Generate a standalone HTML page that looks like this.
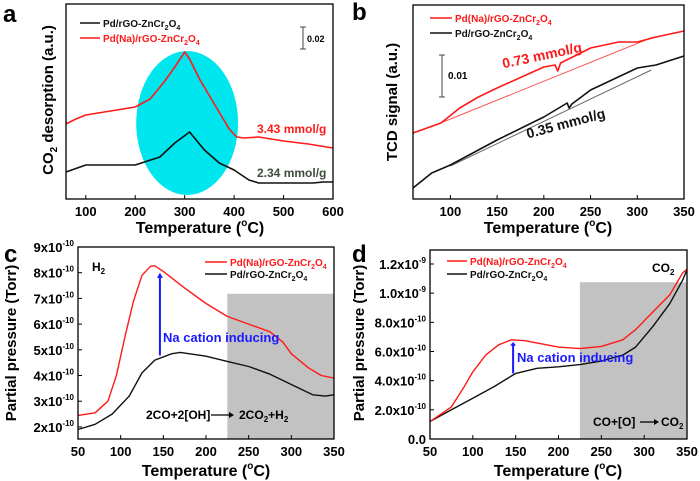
<!DOCTYPE html>
<html><head><meta charset="utf-8">
<style>
body{margin:0;background:#fff;}
svg{display:block;font-family:"Liberation Sans",Arial,sans-serif;font-weight:bold;}
</style></head>
<body>
<svg id="fig" width="700" height="481" viewBox="0 0 700 481" xmlns="http://www.w3.org/2000/svg"></svg>
<script>
// ---- Panel a data (CO2-TPD) ----
const aRedT = [60,80,100,150,200,230,260,280,300,310,330,360,390,405,420,450,500,550,600];
const aRedV = [75,80,84,88,92,100,118,132,147,140,120,95,70,62,61,62,58,55,51];
const aBlkT = [60,100,150,200,250,280,310,340,370,400,430,450,500,560,580,600];
const aBlkV = [27,34,34,34,42,56,67,49,36,29,19,16,16,16,17,17];
const aXTicks = [100,200,300,400,500,600];
// ---- Panel b data (H2-TPR TCD) ----
const bRedT = [60,90,110,130,150,200,212,215,218,250,280,300,320,350];
const bRedV = [66,76,91,102,111,132,134,128,136,151,157,157,162,168];
const bBlkT = [60,80,100,150,200,225,227,230,250,300,320,350];
const bBlkV = [11,26,34,59,82,96,91,95,109,131,134,143];
const bRedBaseT = [87,317];
const bRedBaseV = [75,162];
const bBlkBaseT = [100,315];
const bBlkBaseV = [33,129];
const bXTicks = [100,150,200,250,300,350];
// ---- Panel c data (H2 partial pressure, x1e-10 Torr) ----
const cRedT = [50,70,85,95,105,115,125,135,140,150,175,200,225,250,275,290,300,320,335,350];
const cRedV = [2.45,2.55,3.0,4.0,5.5,6.9,7.9,8.25,8.27,8.05,7.4,6.8,6.3,6.0,5.7,5.3,4.85,4.3,4.0,3.9];
const cBlkT = [50,70,90,110,125,140,160,170,200,225,250,275,300,325,340,350];
const cBlkV = [1.9,2.1,2.5,3.2,4.1,4.6,4.85,4.9,4.75,4.55,4.35,4.05,3.65,3.25,3.2,3.25];
const cXTicks = [50,100,150,200,250,300,350];
const cYTicks = [2,3,4,5,6,7,8,9];
// ---- Panel d data (CO2 partial pressure, x1e-10 Torr) ----
const dRedT = [50,75,90,100,115,130,145,160,200,225,250,275,290,310,330,345,350];
const dRedV = [1.19,2.2,3.6,4.6,5.75,6.45,6.8,6.75,6.3,6.2,6.35,6.8,7.5,8.7,9.9,11.4,11.65];
const dBlkT = [50,75,100,125,150,175,200,225,250,275,290,310,330,345,350];
const dBlkV = [1.2,2.0,2.8,3.6,4.5,4.85,4.95,5.1,5.35,5.75,6.3,7.7,9.3,10.9,11.6];
const dXTicks = [50,100,150,200,250,300,350];
const dYTicks = [0,2,4,6,8,10,12];
const dYLabels = ['0.0','2.0x10','4.0x10','6.0x10','8.0x10','1.0x10','1.2x10'];
const dYExp = ['','-10','-10','-10','-10','-9','-9'];

const NS='http://www.w3.org/2000/svg';
const svg=document.getElementById('fig');
function el(tag,attrs,parent,text){
  const e=document.createElementNS(NS,tag);
  for(const k in attrs)e.setAttribute(k,attrs[k]);
  if(text!==undefined)e.textContent=text;
  (parent||svg).appendChild(e);return e;
}
function mk(x0,x1,d0,d1){return v=>x0+(v-d0)*(x1-x0)/(d1-d0);}
function path(ts,vs,X,Y){return ts.map((t,i)=>(i?'L':'M')+X(t).toFixed(1)+' '+Y(vs[i]).toFixed(1)).join(' ');}
function series(g,ts,vs,X,Y,color,w,name){
  const p=el('path',{d:path(ts,vs,X,Y),fill:'none',stroke:color,'stroke-width':w,'stroke-linejoin':'round'},g);
  
  
  return p;
}
function frame(g,L,T,R,B){
  const r=el('rect',{x:L,y:T,width:R-L,height:B-T,fill:'none',stroke:'#000','stroke-width':1.3},g);
  
  
}
function xTicks(g,ticks,X,B,ly){
  ticks.forEach(t=>{
    el('line',{x1:X(t),x2:X(t),y1:B,y2:B-4,stroke:'#000','stroke-width':1},g);
    const tx=el('text',{x:X(t),y:ly,'text-anchor':'middle','font-size':13},g,String(t));
    
    
  });
}
function legendEntry(g,x1,x2,y,color,label){
  el('line',{x1:x1,x2:x2,y1:y,y2:y,stroke:color,'stroke-width':1.6},g);
  const t=el('text',{x:x2+3,y:y+4,'font-size':10,fill:color},g);
  
  
  t.innerHTML=label;
}
const LBL='Pd/rGO-ZnCr<tspan font-size="7" dy="3">2</tspan><tspan dy="-3">O</tspan><tspan font-size="7" dy="3">4</tspan>';
const LBLR='Pd(Na)/rGO-ZnCr<tspan font-size="7" dy="3">2</tspan><tspan dy="-3">O</tspan><tspan font-size="7" dy="3">4</tspan>';
function xTitle(g,cx,y){
  const t=el('text',{x:cx,y:y,'text-anchor':'middle','font-size':16},g);
  
  
  t.innerHTML='Temperature (<tspan font-size="10" dy="-7">o</tspan><tspan dy="7">C)</tspan>';
}
function yTitle(g,x,cy,html){
  const t=el('text',{x:0,y:0,'text-anchor':'middle','font-size':15,transform:`translate(${x},${cy}) rotate(-90)`},g);
  
  
  t.innerHTML=html;
}
function panelLetter(g,x,y,s){
  const t=el('text',{x:x,y:y,'font-size':24},g,s);
  
  
}

// ===== Panel a =====
(function(){
  const g=el('g',{});
  const L=66,R=333,T=4,B=199;
  const X=mk(L,R,60,600),Y=mk(B,T,0,195);
  const e=el('ellipse',{cx:X(305),cy:Y(76),rx:X(305+103)-X(305),ry:72,fill:'#00e6ee'},g);
  
  series(g,aBlkT,aBlkV,X,Y,'#111',1.6,'series-pd-rgo');
  series(g,aRedT,aRedV,X,Y,'#ff1a1a',1.6,'series-pd-na-rgo');
  frame(g,L,T,R,B);
  xTicks(g,aXTicks,X,B,216);
  xTitle(g,200,233);
  yTitle(g,53,100,'CO<tspan font-size="10" dy="4">2</tspan><tspan dy="-4"> desorption (a.u.)</tspan>');
  panelLetter(g,3,22,'a');
  legendEntry(g,80,100,23,'#111',LBL);
  legendEntry(g,80,100,38,'#ff1a1a',LBLR);
  el('line',{x1:303,x2:303,y1:27,y2:49,stroke:'#444','stroke-width':1},g);
  el('line',{x1:300,x2:306,y1:27,y2:27,stroke:'#444'},g);
  el('line',{x1:300,x2:306,y1:49,y2:49,stroke:'#444'},g);
  el('text',{x:307,y:42,'font-size':9},g,'0.02');
  let t=el('text',{x:257,y:133,'font-size':12,fill:'#ff1a1a'},g,'3.43 mmol/g');
  
  t=el('text',{x:257,y:177,'font-size':12,fill:'#3d4d3a'},g,'2.34 mmol/g');
  
})();

// ===== Panel b =====
(function(){
  const g=el('g',{});
  const L=413,R=684,T=5,B=199;
  const X=mk(L,R,60,350),Y=mk(B,T,0,194);
  series(g,bRedBaseT,bRedBaseV,X,Y,'#ff5555',1,'baseline-red');
  series(g,bBlkBaseT,bBlkBaseV,X,Y,'#666',1,'baseline-black');
  series(g,bBlkT,bBlkV,X,Y,'#111',1.6,'series-pd-rgo');
  series(g,bRedT,bRedV,X,Y,'#ff1a1a',1.6,'series-pd-na-rgo');
  frame(g,L,T,R,B);
  xTicks(g,bXTicks,X,B,216);
  xTitle(g,548,233);
  yTitle(g,397,102,'TCD signal (a.u.)');
  panelLetter(g,352,20,'b');
  legendEntry(g,430,452,18,'#ff1a1a',LBLR);
  legendEntry(g,430,452,33,'#111',LBL);
  el('line',{x1:442,x2:442,y1:55,y2:97,stroke:'#444'},g);
  el('line',{x1:439,x2:445,y1:55,y2:55,stroke:'#444'},g);
  el('line',{x1:439,x2:445,y1:97,y2:97,stroke:'#444'},g);
  el('text',{x:448,y:79,'font-size':10},g,'0.01');
  let t=el('text',{x:0,y:0,'font-size':14,fill:'#ff1a1a','text-anchor':'middle',transform:'translate(543,60) rotate(-12)'},g,'0.73 mmol/g');
  
  t=el('text',{x:0,y:0,'font-size':14,fill:'#111','text-anchor':'middle',transform:'translate(567,128) rotate(-15)'},g,'0.35 mmol/g');
  
})();

// ===== Panel c =====
(function(){
  const g=el('g',{});
  const L=78,R=334,T=247,B=439;
  const X=mk(L,R,50,350),Y=mk(B,T,1.53,9);
  const r=el('rect',{x:X(225),y:Y(7.18),width:X(350)-X(225),height:B-Y(7.18),fill:'#c2c2c2'},g);
  
  series(g,cBlkT,cBlkV,X,Y,'#111',1.4,'series-pd-rgo');
  series(g,cRedT,cRedV,X,Y,'#ff1a1a',1.4,'series-pd-na-rgo');
  frame(g,L,T,R,B);
  xTicks(g,cXTicks,X,B,456);
  cYTicks.forEach(v=>{
    el('line',{x1:L,x2:L+4,y1:Y(v),y2:Y(v),stroke:'#000'},g);
    const t=el('text',{x:L-4,y:Y(v)+5,'text-anchor':'end','font-size':13},g);
    
    t.innerHTML=v+'x10<tspan font-size="8" dy="-6">-10</tspan>';
  });
  xTitle(g,206,476);
  yTitle(g,16,343,'Partial pressure (Torr)');
  panelLetter(g,4,262,'c');
  legendEntry(g,205,227,262,'#ff1a1a',LBLR);
  legendEntry(g,205,227,274,'#111',LBL);
  el('text',{x:92,y:271,'font-size':12},g).innerHTML='H<tspan font-size="8" dy="3">2</tspan>';
  const X0=X(146);
  el('line',{x1:X0,x2:X0,y1:Y(4.78),y2:Y(7.9),stroke:'#1a1aff','stroke-width':2},g);
  el('path',{d:`M${X0-3} ${Y(7.8)} L${X0} ${Y(8.0)} L${X0+3} ${Y(7.8)} Z`,fill:'#1a1aff'},g);
  let t=el('text',{x:163,y:342,'font-size':13,fill:'#1a1aff'},g,'Na cation inducing');
  
  el('text',{x:146,y:419,'font-size':12},g,'2CO+2[OH]');
  el('line',{x1:211,x2:229,y1:415,y2:415,stroke:'#000','stroke-width':1.3},g);
  el('path',{d:'M229 412 L234 415 L229 418 Z',fill:'#000'},g);
  el('text',{x:239,y:419,'font-size':12},g).innerHTML='2CO<tspan font-size="8" dy="3">2</tspan><tspan dy="-3">+H</tspan><tspan font-size="8" dy="3">2</tspan>';
})();

// ===== Panel d =====
(function(){
  const g=el('g',{});
  const L=430,R=687,T=250,B=439;
  const X=mk(L,R,50,350),Y=mk(B,T,0,12.96);
  const r=el('rect',{x:X(225),y:Y(10.75),width:X(350)-X(225),height:B-Y(10.75),fill:'#c2c2c2'},g);
  
  series(g,dBlkT,dBlkV,X,Y,'#111',1.4,'series-pd-rgo');
  series(g,dRedT,dRedV,X,Y,'#ff1a1a',1.4,'series-pd-na-rgo');
  frame(g,L,T,R,B);
  xTicks(g,dXTicks,X,B,456);
  dYTicks.forEach((v,i)=>{
    el('line',{x1:L,x2:L+4,y1:Y(v),y2:Y(v),stroke:'#000'},g);
    const t=el('text',{x:L-4,y:Y(v)+5,'text-anchor':'end','font-size':13},g);
    
    t.innerHTML=dYLabels[i]+(dYExp[i]?'<tspan font-size="8" dy="-6">'+dYExp[i]+'</tspan>':'');
  });
  xTitle(g,558,476);
  yTitle(g,364,343,'Partial pressure (Torr)');
  panelLetter(g,352,262,'d');
  legendEntry(g,447,467,261,'#ff1a1a',LBLR);
  legendEntry(g,447,467,274,'#111',LBL);
  el('text',{x:652,y:272,'font-size':12},g).innerHTML='CO<tspan font-size="8" dy="3">2</tspan>';
  const X0=X(147);
  el('line',{x1:X0,x2:X0,y1:Y(4.5),y2:Y(6.5),stroke:'#1a1aff','stroke-width':2},g);
  el('path',{d:`M${X0-3} ${Y(6.4)} L${X0} ${Y(6.65)} L${X0+3} ${Y(6.4)} Z`,fill:'#1a1aff'},g);
  let t=el('text',{x:517,y:362,'font-size':13,fill:'#1a1aff'},g,'Na cation inducing');
  
  el('text',{x:593,y:426,'font-size':12},g,'CO+[O]');
  el('line',{x1:640,x2:654,y1:422,y2:422,stroke:'#000','stroke-width':1.3},g);
  el('path',{d:'M654 419 L659 422 L654 425 Z',fill:'#000'},g);
  el('text',{x:661,y:426,'font-size':12},g).innerHTML='CO<tspan font-size="8" dy="3">2</tspan>';
})();
</script>
</body></html>
